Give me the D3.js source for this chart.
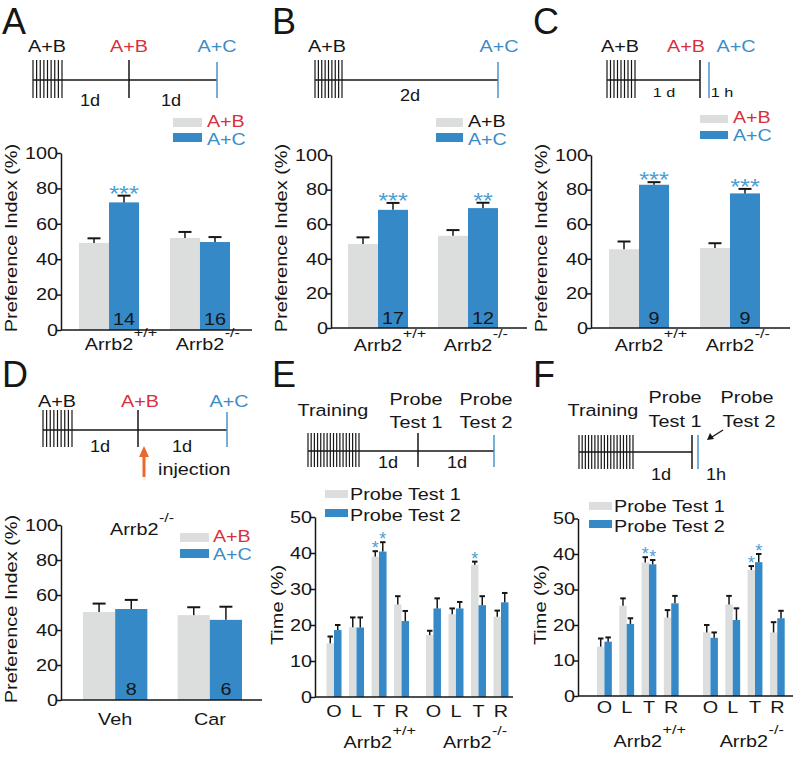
<!DOCTYPE html>
<html><head><meta charset="utf-8">
<script src="https://cdn.jsdelivr.net/npm/d3@7"></script>
<style>body{margin:0;background:#fff}</style>
</head><body><svg id="c" width="799" height="757"></svg>
<script>
// ---------------- DATA ----------------
const genotypes = ["+/+", "-/-"];
const drugs = ["Veh", "Car"];
const seriesAB = ["A+B", "A+C"];
const probeSeries = ["Probe Test 1", "Probe Test 2"];
const quadrants = ["O", "L", "T", "R"];
const prefTicks = [0, 20, 40, 60, 80, 100];
const timeTicks = [0, 10, 20, 30, 40, 50];

// Panel A
const aMeanAB = [49.2, 52.0], aSemAB = [2.6, 3.4];
const aMeanAC = [72.1, 49.7], aSemAC = [3.8, 2.8];
const aN = [14, 16], aSig = ["***", ""];
// Panel B
const bMeanAB = [48.6, 53.3], bSemAB = [3.8, 3.3];
const bMeanAC = [68.3, 69.3], bSemAC = [4.0, 3.1];
const bN = [17, 12], bSig = ["***", "**"];
// Panel C
const cMeanAB = [45.5, 46.2], cSemAB = [4.5, 2.8];
const cMeanAC = [82.8, 77.8], cSemAC = [1.5, 2.6];
const cN = [9, 9], cSig = ["***", "***"];
// Panel D (Arrb2-/-)
const dMeanAB = [50.3, 48.5], dSemAB = [4.8, 4.5];
const dMeanAC = [52.0, 45.8], dSemAC = [5.2, 7.5];
const dN = [8, 6], dSig = ["", ""];
// Panel E  (order O, L, T, R)
const eP1WT = [14.9, 19.4, 39.0, 25.7], eP1WTsem = [1.9, 2.7, 1.5, 2.3];
const eP2WT = [18.6, 19.3, 40.4, 21.1], eP2WTsem = [1.4, 2.8, 2.6, 2.8];
const eP1KO = [17.2, 23.0, 36.7, 22.3], eP1KOsem = [1.2, 1.6, 0.9, 1.7];
const eP2KO = [24.6, 24.6, 25.5, 26.3], eP2KOsem = [2.8, 1.8, 2.5, 2.6];
const eSigP1WT = ["", "", "*", ""], eSigP2WT = ["", "", "*", ""];
const eSigP1KO = ["", "", "*", ""], eSigP2KO = ["", "", "", ""];
// Panel F
const fP1WT = [13.9, 25.4, 37.6, 22.1], fP1WTsem = [2.3, 2.1, 1.5, 2.1];
const fP2WT = [15.3, 20.3, 37.1, 26.1], fP2WTsem = [1.2, 1.6, 1.2, 2.1];
const fP1KO = [17.9, 25.8, 35.5, 17.9], fP1KOsem = [2.1, 2.4, 1.1, 2.9];
const fP2KO = [16.4, 21.4, 37.7, 21.9], fP2KOsem = [1.5, 3.3, 2.3, 2.1];
const fSigP1WT = ["", "", "*", ""], fSigP2WT = ["", "", "*", ""];
const fSigP1KO = ["", "", "*", ""], fSigP2KO = ["", "", "*", ""];

// ---------------- STYLE ----------------
const SX = 1.2, FS = 16.5;
const FONT = '"Liberation Sans", Arial, Helvetica, sans-serif';
const INK = '#161616', GRAY = '#dcdddd', BLUE = '#3589c6', RED = '#d7303c',
      BLUET = '#3a8cc8', STAR = '#4a9fd5', ORANGE = '#e8692b', TLBLUE = '#4a93cb';

const svg = d3.select('#c').attr('font-family', FONT);
svg.append('rect').attr('width', 799).attr('height', 757).attr('fill', '#fff');

function T(g, x, y, s, o = {}) {
  return g.append('text')
    .attr('transform', `translate(${x},${y})` + (o.rot ? ` rotate(${o.rot})` : '') + ` scale(${o.sx ?? SX},1)`)
    .attr('font-size', o.size ?? FS)
    .attr('text-anchor', o.anchor ?? 'start')
    .attr('fill', o.fill ?? INK)
    .text(s);
}
function geno(g, cx, y, sup, anchor) {
  const t = T(g, cx, y, 'Arrb2', { anchor: anchor || 'middle' });
  const w = t.node().getComputedTextLength() * SX;
  const right = anchor === 'start' ? cx + w : cx + w / 2;
  T(g, right + 0.5, y - 13, sup, { size: 13.5 });
}
function line(g, x1, y1, x2, y2, col, w) {
  g.append('line').attr('x1', x1).attr('y1', y1).attr('x2', x2).attr('y2', y2)
    .attr('stroke', col || INK).attr('stroke-width', w || 1.5);
}

// ---------------- PANEL LETTERS ----------------
const letters = [["A", 2, 34], ["B", 272, 34], ["C", 533, 34], ["D", 2, 387], ["E", 272, 387], ["F", 533, 387]];
letters.forEach(([l, x, y]) => T(svg, x, y, l, { size: 36, sx: 1 }));

// ---------------- TIMELINES (diagram layout) ----------------
function timeline(L) {
  const g = svg.append('g');
  const hx = d3.range(L.hatch[2]).map(i => L.hatch[0] + i * (L.hatch[1] - L.hatch[0]) / (L.hatch[2] - 1));
  hx.forEach(x => line(g, x, L.hy[0], x, L.hy[1], INK, 1.2));
  line(g, L.hatch[0], L.lineY, L.lineEnd, L.lineY, INK, 1.5);
  L.ticks.forEach(t => line(g, t.x, t.y0, t.x, t.y1, t.c, 1.5));
  L.labels.forEach(l => T(g, l.x, l.y, l.t, { anchor: l.a || 'middle', fill: l.c || INK, size: l.s || FS, sx: l.sx || SX }));
  return g;
}
timeline({ hatch: [33, 62, 9], hy: [60, 98], lineY: 80, lineEnd: 217,
  ticks: [{ x: 129, y0: 60, y1: 98, c: INK }, { x: 217, y0: 62, y1: 98, c: TLBLUE }],
  labels: [{ t: "A+B", x: 47, y: 52 }, { t: "A+B", x: 129, y: 52, c: RED }, { t: "A+C", x: 217, y: 52, c: BLUET },
           { t: "1d", x: 90, y: 106, sx: 1.1 }, { t: "1d", x: 171, y: 106, sx: 1.1 }] });
timeline({ hatch: [315, 342, 9], hy: [60, 98], lineY: 80, lineEnd: 498,
  ticks: [{ x: 498, y0: 62, y1: 98, c: TLBLUE }],
  labels: [{ t: "A+B", x: 327, y: 52 }, { t: "A+C", x: 499, y: 52, c: BLUET }, { t: "2d", x: 410, y: 101, sx: 1.1 }] });
timeline({ hatch: [607, 635, 9], hy: [60, 98], lineY: 80, lineEnd: 700,
  ticks: [{ x: 700, y0: 60, y1: 98, c: INK }, { x: 709, y0: 62, y1: 98, c: TLBLUE }],
  labels: [{ t: "A+B", x: 620, y: 52 }, { t: "A+B", x: 686, y: 52, c: RED }, { t: "A+C", x: 736, y: 52, c: BLUET },
           { t: "1 d", x: 664, y: 97, s: 13.5 }, { t: "1 h", x: 722, y: 97, s: 13.5 }] });
const tD = timeline({ hatch: [43, 72, 9], hy: [410, 447], lineY: 430, lineEnd: 227,
  ticks: [{ x: 138, y0: 410, y1: 447, c: INK }, { x: 227, y0: 412, y1: 447, c: TLBLUE }],
  labels: [{ t: "A+B", x: 57, y: 407 }, { t: "A+B", x: 140, y: 407, c: RED }, { t: "A+C", x: 229, y: 407, c: BLUET },
           { t: "1d", x: 100, y: 452, sx: 1.1 }, { t: "1d", x: 182, y: 452, sx: 1.1 },
           { t: "injection", x: 158, y: 475, a: 'start' }] });
line(tD, 144, 477, 144, 455, ORANGE, 3);
tD.append('path').attr('d', 'M144,446 L149,457 L139,457 Z').attr('fill', ORANGE);
timeline({ hatch: [308, 359, 17], hy: [433, 467], lineY: 451, lineEnd: 494,
  ticks: [{ x: 418, y0: 433, y1: 467, c: INK }, { x: 494, y0: 435, y1: 467, c: TLBLUE }],
  labels: [{ t: "Training", x: 333, y: 416 }, { t: "Probe", x: 416, y: 405 }, { t: "Test 1", x: 416, y: 428 },
           { t: "Probe", x: 486, y: 405 }, { t: "Test 2", x: 486, y: 428 },
           { t: "1d", x: 388, y: 468, sx: 1.1 }, { t: "1d", x: 457, y: 468, sx: 1.1 }] });
const tF = timeline({ hatch: [579, 633, 18], hy: [435, 469], lineY: 452, lineEnd: 692,
  ticks: [{ x: 692, y0: 435, y1: 469, c: INK }, { x: 698, y0: 435, y1: 469, c: TLBLUE }],
  labels: [{ t: "Training", x: 603, y: 416 }, { t: "Probe", x: 675, y: 403 }, { t: "Test 1", x: 675, y: 427 },
           { t: "Probe", x: 747, y: 403 }, { t: "Test 2", x: 749, y: 427 },
           { t: "1d", x: 661, y: 480, sx: 1.1 }, { t: "1h", x: 716, y: 480, sx: 1.1 }] });
line(tF, 723, 430, 712, 437, INK, 1.3);
tF.append('path').attr('d', 'M707,440 L710,433 L714,439 Z').attr('fill', INK);

// ---------------- LEGENDS ----------------
function legend(L, labels, colsText) {
  const g = svg.append('g');
  [GRAY, BLUE].forEach((c, i) => {
    g.append('rect').attr('x', L.x).attr('y', L.ys[i]).attr('width', L.w).attr('height', L.h).attr('fill', c);
    T(g, L.x + L.w + L.gap, L.tys[i], labels[i], { fill: colsText[i], size: L.fs || 16, sx: L.sx || 1.23 });
  });
}
legend({ x: 173, w: 29, h: 9, gap: 5, ys: [118, 133], tys: [126.5, 145] }, seriesAB, [RED, BLUET]);
legend({ x: 436, w: 27, h: 9, gap: 5, ys: [118, 133], tys: [126.5, 145] }, seriesAB, [INK, BLUET]);
legend({ x: 700, w: 28, h: 8, gap: 5, ys: [115, 131], tys: [123, 141] }, seriesAB, [RED, BLUET]);
legend({ x: 180, w: 29, h: 9, gap: 4, ys: [533, 549], tys: [542, 560] }, seriesAB, [RED, BLUET]);
legend({ x: 325, w: 23, h: 8, gap: 2, ys: [490, 509], tys: [500, 521], fs: 16.5, sx: 1.2 }, probeSeries, [INK, INK]);
legend({ x: 589, w: 23, h: 8, gap: 2, ys: [502, 520], tys: [512, 532], fs: 16.5, sx: 1.2 }, probeSeries, [INK, INK]);

// ---------------- AXIS helper ----------------
function yAxis(g, y, ax, ticks) {
  const a = g.append('g').attr('transform', `translate(${ax},0)`)
    .call(d3.axisLeft(y).tickValues(ticks).tickSize(4).tickSizeOuter(0));
  a.select('.domain').attr('stroke', INK).attr('stroke-width', 1.5);
  a.selectAll('.tick line').attr('stroke', INK).attr('stroke-width', 1.5);
  a.selectAll('.tick text').attr('x', null).attr('font-size', FS).attr('font-family', FONT)
    .attr('fill', INK).attr('transform', `translate(-3,0) scale(${SX},1)`);
}
function errBar(g, cx, yTop, yMean, cw, capW) {
  line(g, cx, yMean, cx, yTop, INK, 1.5);
  line(g, cx - cw / 2, yTop, cx + cw / 2, yTop, INK, capW);
}

// ---------------- PREFERENCE PANELS ----------------
function prefPanel(L, cats, ab, abSem, ac, acSem, n, sig) {
  const g = svg.append('g');
  const y = d3.scaleLinear().domain([0, 100]).range([L.y0, L.y100]);
  const x0 = d3.scaleBand().domain(cats).range(L.bands).paddingInner(L.pad);
  const x1 = d3.scaleBand().domain(seriesAB).range([0, x0.bandwidth()]);
  const rows = [];
  cats.forEach((c, i) => {
    rows.push({ c, s: "A+B", m: ab[i], e: abSem[i], sig: "" });
    rows.push({ c, s: "A+C", m: ac[i], e: acSem[i], sig: sig[i], n: n[i] });
  });
  g.selectAll('rect.bar').data(rows).join('rect').attr('class', 'bar')
    .attr('x', d => x0(d.c) + x1(d.s)).attr('width', x1.bandwidth())
    .attr('y', d => y(d.m)).attr('height', d => y(0) - y(d.m))
    .attr('fill', d => d.s === "A+B" ? GRAY : BLUE);
  rows.forEach(d => {
    const cx = x0(d.c) + x1(d.s) + x1.bandwidth() / 2;
    errBar(g, cx, y(d.m + d.e), y(d.m), 13, 2);
    if (d.sig) T(g, cx, y(d.m + d.e) + 5, d.sig, { anchor: 'middle', size: 22, sx: 1.15, fill: STAR });
    if (d.n !== undefined) T(g, cx, L.nY, String(d.n), { anchor: 'middle' });
  });
  yAxis(g, y, L.ax, prefTicks);
  line(g, L.ax, y(0), L.axEnd, y(0), INK, 1.5);
  cats.forEach(c => {
    const cx = x0(c) + x0.bandwidth() / 2;
    if (genotypes.includes(c)) geno(g, cx, L.catY, c);
    else T(g, cx, L.catY, c, { anchor: 'middle' });
  });
  T(g, L.tx, L.ty, "Preference Index (%)", { anchor: 'middle', rot: -90, sx: 1.21 });
  return g;
}
prefPanel({ y0: 330, y100: 153, bands: [79, 230], pad: 0.34, ax: 61, axEnd: 252, nY: 325, catY: 350, tx: 17, ty: 238 },
  genotypes, aMeanAB, aSemAB, aMeanAC, aSemAC, aN, aSig);
prefPanel({ y0: 328, y100: 155, bands: [348, 498], pad: 0.333, ax: 331, axEnd: 527, nY: 324, catY: 351, tx: 287, ty: 238 },
  genotypes, bMeanAB, bSemAB, bMeanAC, bSemAC, bN, bSig);
prefPanel({ y0: 328, y100: 155, bands: [609, 760], pad: 0.34, ax: 591, axEnd: 790, nY: 324, catY: 351, tx: 547, ty: 238 },
  genotypes, cMeanAB, cSemAB, cMeanAC, cSemAC, cN, cSig);
const gD = prefPanel({ y0: 700, y100: 525, bands: [83, 242], pad: 0.32, ax: 61, axEnd: 262, nY: 695, catY: 725, tx: 17, ty: 609 },
  drugs, dMeanAB, dSemAB, dMeanAC, dSemAC, dN, dSig);
geno(gD, 110, 535, "-/-", 'start');

// ---------------- PROBE PANELS ----------------
function probePanel(L, p1wt, p1wtS, p2wt, p2wtS, p1ko, p1koS, p2ko, p2koS, s1wt, s2wt, s1ko, s2ko) {
  const g = svg.append('g');
  const y = d3.scaleLinear().domain([0, 50]).range([L.y0, L.y50]);
  const xG = d3.scaleBand().domain(genotypes).range(L.bands).paddingInner(L.pad);
  const xQ = d3.scaleBand().domain(quadrants).range([0, xG.bandwidth()]).paddingInner(1 / 3);
  const xS = d3.scaleBand().domain(probeSeries).range([0, xQ.bandwidth()]);
  const src = {
    "+/+": [[p1wt, p1wtS, s1wt], [p2wt, p2wtS, s2wt]],
    "-/-": [[p1ko, p1koS, s1ko], [p2ko, p2koS, s2ko]]
  };
  const rows = [];
  genotypes.forEach(gt => quadrants.forEach((q, qi) => probeSeries.forEach((s, si) => {
    const [m, e, sg] = src[gt][si];
    rows.push({ gt, q, s, m: m[qi], e: e[qi], sig: sg[qi] });
  })));
  const bx = d => xG(d.gt) + xQ(d.q) + xS(d.s);
  g.selectAll('rect.bar').data(rows).join('rect').attr('class', 'bar')
    .attr('x', bx).attr('width', xS.bandwidth())
    .attr('y', d => y(d.m)).attr('height', d => y(0) - y(d.m))
    .attr('fill', d => d.s === probeSeries[0] ? GRAY : BLUE);
  rows.forEach(d => {
    const cx = bx(d) + xS.bandwidth() / 2;
    errBar(g, cx, y(d.m + d.e), y(d.m), 5.5, 2);
    if (d.sig) T(g, cx, y(d.m + d.e) + 3, d.sig, { anchor: 'middle', size: 18, sx: 1, fill: STAR });
  });
  yAxis(g, y, L.ax, timeTicks);
  line(g, L.ax, y(0), L.axEnd, y(0), INK, 1.5);
  genotypes.forEach(gt => {
    quadrants.forEach(q => T(g, xG(gt) + xQ(q) + xQ.bandwidth() / 2, L.qY, q, { anchor: 'middle' }));
    geno(g, xG(gt) + xG.bandwidth() / 2, L.gY, gt);
  });
  T(g, L.tx, L.ty, "Time (%)", { anchor: 'middle', rot: -90, sx: 1.21 });
}
probePanel({ y0: 697, y50: 517, bands: [326.5, 508.5], pad: 0.17, ax: 315, axEnd: 513, qY: 717, gY: 748, tx: 283, ty: 605 },
  eP1WT, eP1WTsem, eP2WT, eP2WTsem, eP1KO, eP1KOsem, eP2KO, eP2KOsem, eSigP1WT, eSigP2WT, eSigP1KO, eSigP2KO);
probePanel({ y0: 696, y50: 518.5, bands: [597, 784.7], pad: 0.23, ax: 578, axEnd: 793, qY: 713, gY: 747, tx: 546, ty: 605 },
  fP1WT, fP1WTsem, fP2WT, fP2WTsem, fP1KO, fP1KOsem, fP2KO, fP2KOsem, fSigP1WT, fSigP2WT, fSigP1KO, fSigP2KO);
</script>
</body></html>
